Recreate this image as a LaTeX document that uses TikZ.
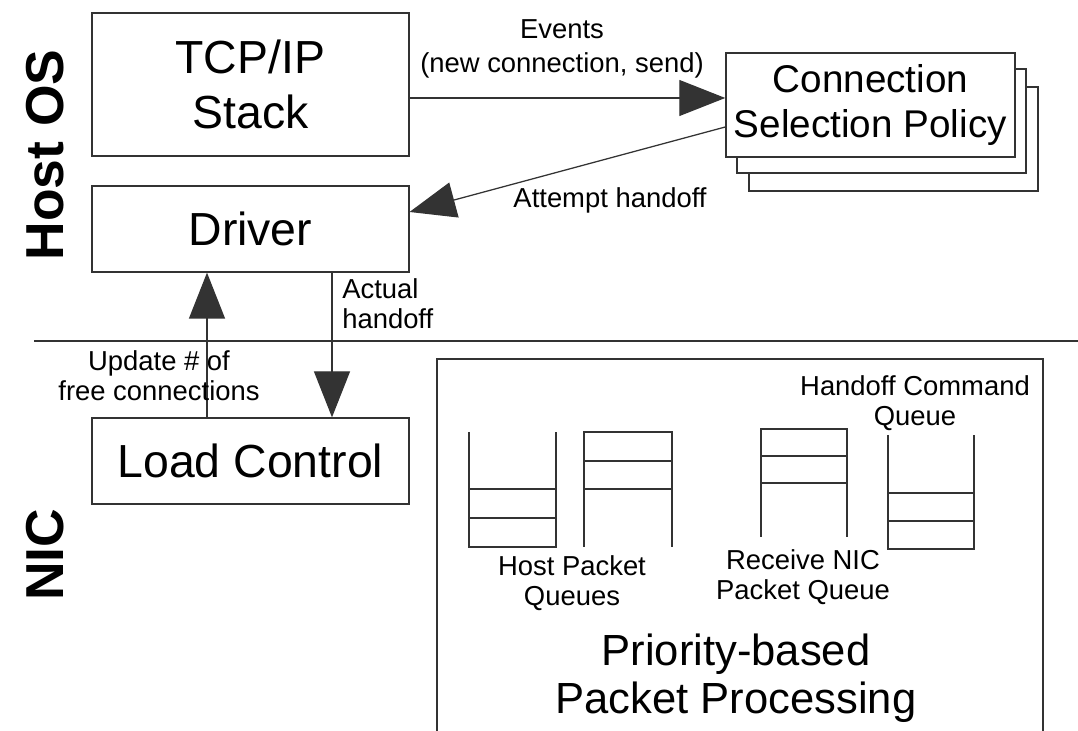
\documentclass[tikz,border=0pt]{standalone}
\usepackage{fontspec}
\setmainfont{Liberation Sans}
\usepackage{xcolor}
\usetikzlibrary{arrows.meta}
\definecolor{NHLine}{HTML}{333333}

\begin{document}
\begin{tikzpicture}[x=1cm,y=1cm,
  unit/.style={draw=NHLine,line width=0.9pt,align=center,inner sep=0pt,font=\fontsize{33}{39}\selectfont},
  flow/.style={draw=NHLine,line width=0.9pt,-{Triangle[length=1.15cm,width=0.9cm]}},
  note/.style={align=center,inner sep=0pt,font=\fontsize{19.5}{21.5}\selectfont},
  side/.style={rotate=90,inner sep=0pt,font=\fontsize{38}{38}\selectfont\bfseries},
  qline/.style={draw=NHLine,line width=0.9pt}]
\path[use as bounding box] (0,0) rectangle (26.95,18.275);
\node[side] (hostos) at (1.125,14.40) {Host OS};
\node[side] (nic) at (1.125,4.40) {NIC};
\node[unit,minimum width=7.925cm,minimum height=3.575cm] (tcp) at (6.26,16.16) {TCP/IP\\Stack};
\node[unit,minimum width=7.925cm,minimum height=2.15cm] (drv) at (6.26,12.55) {Driver};
\node[unit,minimum width=7.925cm,minimum height=2.15cm] (lc) at (6.26,6.75) {Load Control};
\node[unit,fill=white,minimum width=7.225cm,minimum height=2.6cm] (csp3) at (22.34,14.80) {};
\node[unit,fill=white,minimum width=7.225cm,minimum height=2.6cm] (csp2) at (22.04,15.25) {};
\node[unit,fill=white,minimum width=7.225cm,minimum height=2.6cm,font=\fontsize{27.5}{32}\selectfont] (csp) at (21.76,15.65) {Connection\\Selection Policy};
\coordinate (evt) at (0,15.825);
\coordinate (upd) at (5.175,0);
\coordinate (act) at (8.30,0);
\draw[flow] (tcp.east |- evt) -- (csp.west |- evt);
\node[note,font=\fontsize{19.5}{24.5}\selectfont] (evtlbl) at (14.05,17.05) {Events\\(new connection, send)};
\draw[flow] ([yshift=-0.55cm]csp.west) -- ([yshift=0.425cm]drv.east);
\node[note] (attlbl) at (15.25,13.275) {Attempt handoff};
\draw[NHLine,line width=0.9pt] (0.85,9.75) -- (26.95,9.75);
\draw[flow] (lc.north -| upd) -- (drv.south -| upd);
\node[note] (updlbl) at (3.975,8.875) {Update \# of\\free connections};
\draw[flow] (drv.south -| act) -- (lc.north -| act);
\node[note,anchor=west,align=left] (actlbl) at (8.55,10.675) {Actual\\handoff};
\draw[qline] (10.925,-0.5) |- (26.075,9.30) -- (26.075,-0.5);
\draw[qline] (11.725,7.475) |- (13.90,4.60) -- (13.90,7.475);
\draw[qline] (11.725,6.05) -- (13.90,6.05) (11.725,5.325) -- (13.90,5.325);
\draw[qline] (14.60,4.60) |- (16.80,7.475) -- (16.80,4.60);
\draw[qline] (14.60,6.75) -- (16.80,6.75) (14.60,6.05) -- (16.80,6.05);
\draw[qline] (19.025,4.85) |- (21.175,7.55) -- (21.175,4.85);
\draw[qline] (19.025,6.875) -- (21.175,6.875) (19.025,6.20) -- (21.175,6.20);
\draw[qline] (22.20,7.40) |- (24.35,4.55) -- (24.35,7.40);
\draw[qline] (22.20,5.95) -- (24.35,5.95) (22.20,5.25) -- (24.35,5.25);
\node[note] (hpq) at (14.30,3.70) {Host Packet\\Queues};
\node[note] (rnq) at (20.075,3.85) {Receive NIC\\Packet Queue};
\node[note] (hcq) at (22.875,8.20) {Handoff Command\\Queue};
\node[note,font=\fontsize{31}{34}\selectfont] (ppp) at (18.40,1.325) {Priority-based\\Packet Processing};
\end{tikzpicture}
\end{document}
